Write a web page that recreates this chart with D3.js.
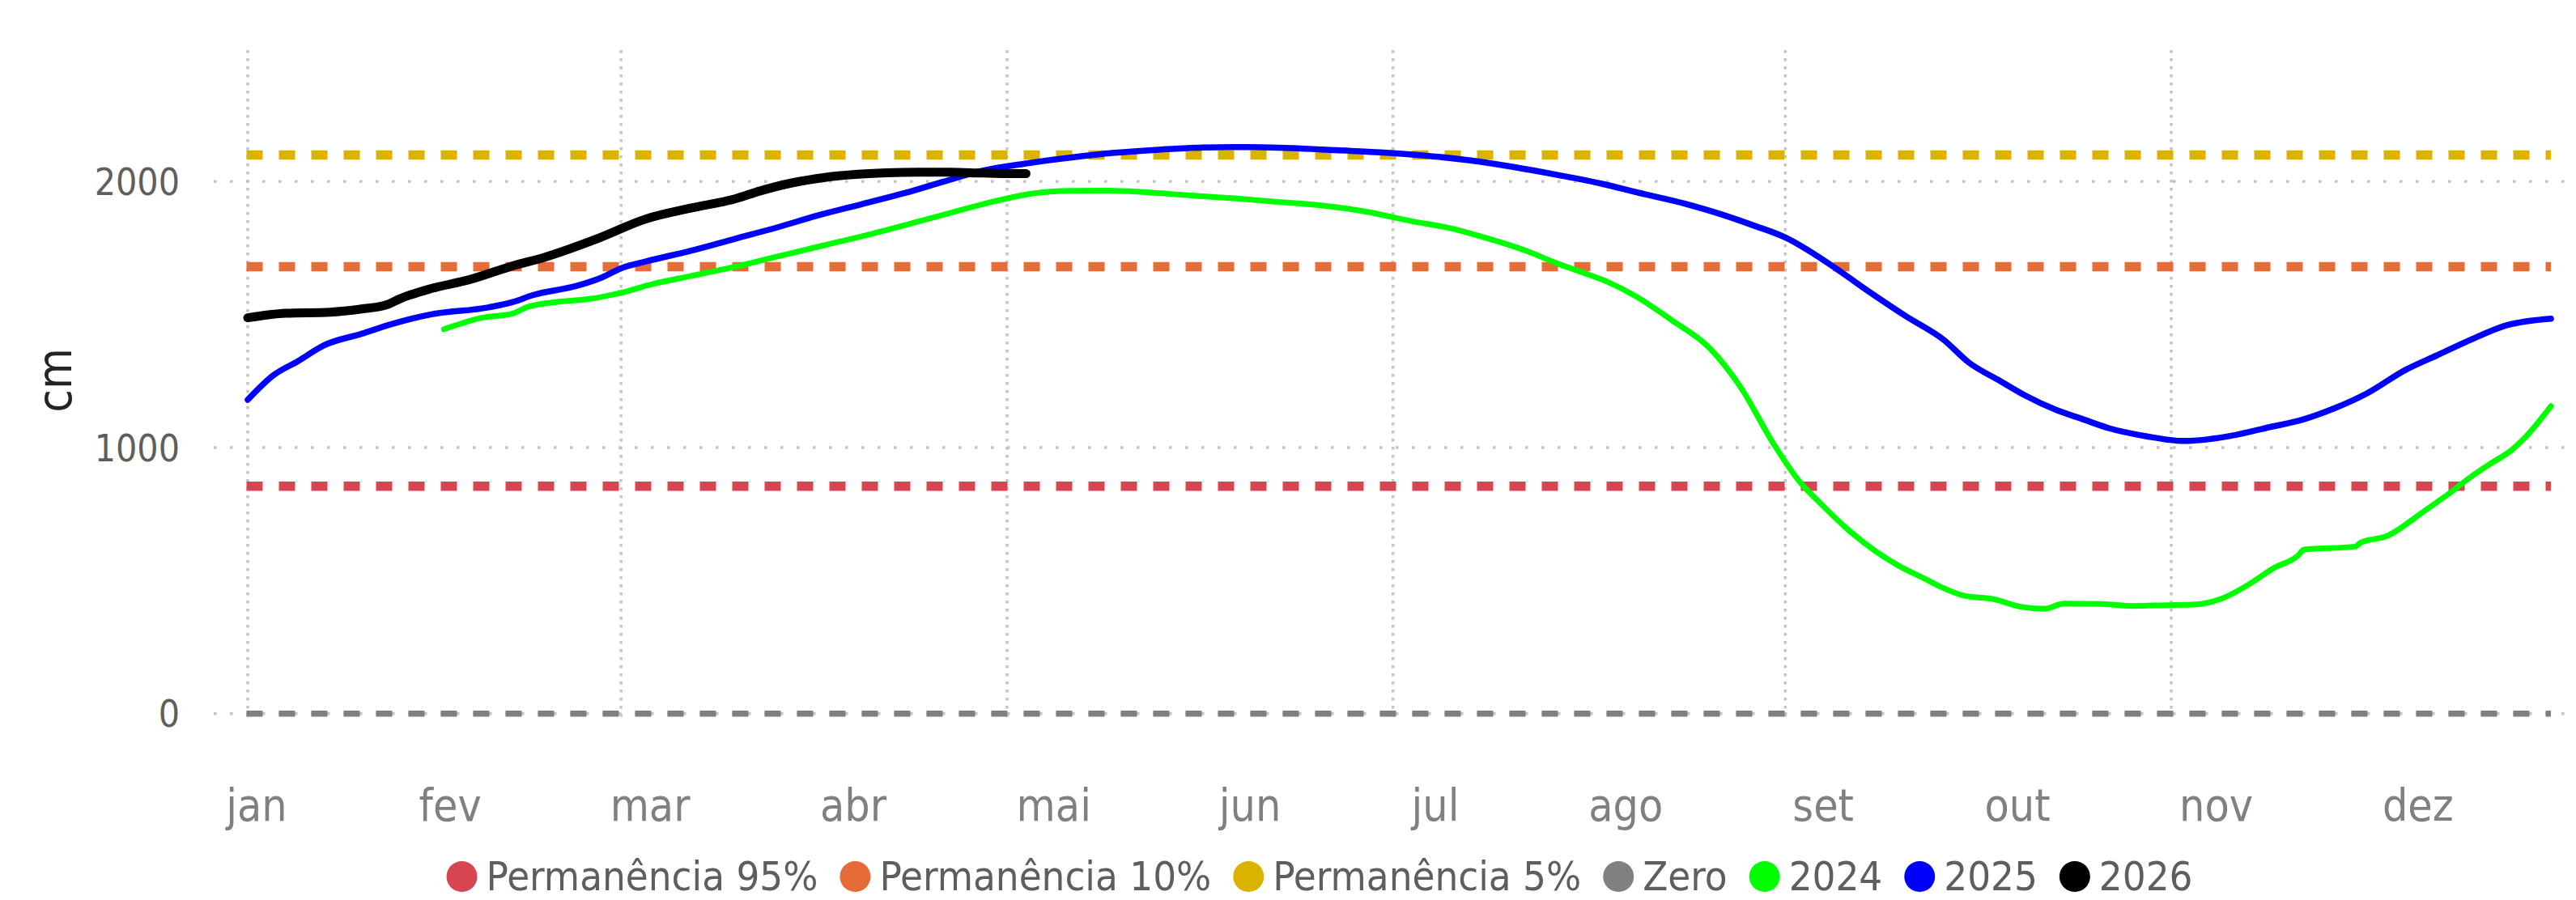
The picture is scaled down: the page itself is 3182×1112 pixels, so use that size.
<!DOCTYPE html>
<html>
<head>
<meta charset="utf-8">
<script src="https://cdn.jsdelivr.net/npm/d3@7"></script>
<style>
  html, body { margin: 0; padding: 0; background: #ffffff; }
  svg text { font-family: "DejaVu Sans Condensed", "DejaVu Sans", sans-serif; font-stretch: condensed; }
</style>
</head>
<body>
<svg id="chart" width="3182" height="1112"></svg>
<script>
// ---------- data ----------
const monthLabels = ["jan", "fev", "mar", "abr", "mai", "jun", "jul", "ago", "set", "out", "nov", "dez"];
// day-of-year where each month label sits
const monthLabelDays = [1.4, 32, 63.6, 95.7, 127.4, 158.4, 187.7, 217.8, 249.0, 279.7, 311.1, 343.0];
// vertical gridlines (day-of-year): 1 jan, 1 mar, 1 mai, 1 jul, 1 set, 1 nov
const gridDays = [0, 59, 120, 181, 243, 304];
const yTicks = [0, 1000, 2000];

const refNames = ["Permanência 95%", "Permanência 10%", "Permanência 5%", "Zero"];
const refValues = [855, 1680, 2100, 0];
const refColors = ["#D64550", "#E66C37", "#D9B300", "#808080"];

const seriesNames = ["2024", "2025", "2026"];
const seriesColors = ["#00FF00", "#0000FF", "#000000"];

// [day of year, level in cm]
const level2024 = [
  [31,1445],[37,1488],[42,1505],[44,1527],[49,1548],[54,1559],[59,1582],[64,1615],[70,1645],
  [77,1680],[84,1720],[91,1760],[98,1800],[106,1850],[111,1882],[117,1920],[124,1955],[130,1965],
  [136,1966],[142,1960],[149,1948],[156,1937],[162,1925],[169,1912],[176,1890],[184,1851],[190,1825],
  [195,1793],[202,1740],[207,1692],[211,1658],[215,1622],[220,1560],[225,1480],[231,1375],[236,1225],
  [241,1020],[245,880],[249,780],[253,690],[257,615],[261,555],[265,508],[268,472],[271,445],
  [276,430],[280,403],[284,394],[287,414],[293,412],[298,405],[303,408],[308,411],[312,433],
  [317,497],[320,545],[324,594],[325,617],[333,628],[334,644],[338,667],[344,762],[348,829],
  [351,884],[354,933],[358,995],[360,1040],[364,1156]
];
const level2025 = [
  [0,1180],[4,1271],[8,1326],[12,1384],[18,1428],[23,1466],[29,1501],[38,1527],[42,1548],[45,1573],
  [52,1608],[56,1640],[59,1674],[63,1700],[70,1740],[77,1785],[84,1830],[90,1872],[97,1915],
  [104,1958],[110,2000],[116,2040],[123,2068],[130,2090],[137,2108],[144,2120],[151,2128],[158,2130],
  [165,2126],[172,2118],[179,2110],[186,2098],[193,2080],[200,2055],[207,2025],[214,1992],[220,1957],
  [227,1918],[233,1876],[238,1835],[243,1790],[250,1690],[256,1590],[262,1495],[268,1406],[272,1320],
  [277,1250],[281,1195],[286,1140],[290,1107],[294,1074],[300,1043],[306,1025],[314,1047],[319,1074],
  [325,1107],[330,1150],[335,1205],[341,1292],[346,1347],[351,1402],[357,1460],[364,1485]
];
const level2026 = [
  [0,1488],[6,1505],[13,1509],[18,1521],[22,1537],[24,1559],[29,1598],[35,1631],[42,1684],[47,1716],
  [55,1783],[63,1860],[70,1900],[77,1935],[81,1965],[86,1995],[91,2015],[96,2027],[101,2033],
  [106,2035],[111,2035],[116,2032],[120,2030],[123,2030]
];
const seriesData = [level2024, level2025, level2026];

// ---------- layout ----------
const svg = d3.select("#chart");
const x = d3.scaleLinear().domain([0, 364]).range([306, 3151]);
const y = d3.scaleLinear().domain([0, 2500]).range([881.8, 60]);

// horizontal gridlines
svg.append("g").selectAll("line").data(yTicks).join("line")
  .attr("x1", 264).attr("x2", 3168)
  .attr("y1", d => y(d)).attr("y2", d => y(d))
  .attr("stroke", "#C4C4C4").attr("stroke-width", 3.5)
  .attr("stroke-dasharray", "3.5 16.5");

// vertical gridlines
svg.append("g").selectAll("line").data(gridDays).join("line")
  .attr("x1", d => x(d)).attr("x2", d => x(d))
  .attr("y1", 62).attr("y2", 888)
  .attr("stroke", "#C4C4C4").attr("stroke-width", 3.5)
  .attr("stroke-dasharray", "3.5 6.5");

// y labels
svg.append("g").selectAll("text").data(yTicks).join("text")
  .attr("x", 222).attr("y", d => y(d) + 16.5)
  .attr("text-anchor", "end")
  .attr("font-size", 46).attr("fill", "#605E5C")
  .text(d => d);

// y title
svg.append("text")
  .attr("transform", "translate(88,470) rotate(-90)")
  .attr("text-anchor", "middle")
  .attr("font-size", 58).attr("fill", "#252423")
  .text("cm");

// x labels
svg.append("g").selectAll("text").data(monthLabels).join("text")
  .attr("x", (d, i) => x(monthLabelDays[i])).attr("y", 1014)
  .attr("text-anchor", "middle")
  .attr("font-size", 55).attr("fill", "#808080")
  .text(d => d);

// reference dashed lines
svg.append("g").selectAll("line").data(refValues).join("line")
  .attr("x1", x(0) - 1.5).attr("x2", x(364))
  .attr("y1", d => y(d)).attr("y2", d => y(d))
  .attr("stroke", (d, i) => refColors[i])
  .attr("stroke-width", (d, i) => i === 3 ? 7.5 : 11.5)
  .attr("stroke-dasharray", "20 20");

// series lines
const line = d3.line().x(d => x(d[0])).y(d => y(d[1])).curve(d3.curveMonotoneX);
const widths = [7, 7.5, 11];
svg.append("g").selectAll("path").data(seriesData).join("path")
  .attr("d", d => line(d))
  .attr("fill", "none")
  .attr("stroke", (d, i) => seriesColors[i])
  .attr("stroke-width", (d, i) => widths[i])
  .attr("stroke-linecap", "round")
  .attr("stroke-linejoin", "round");

// legend
const legendNames = refNames.concat(seriesNames);
const legendColors = refColors.concat(seriesColors);
const lg = svg.append("g");
let cursor = 0;
legendNames.forEach((name, i) => {
  const g = lg.append("g");
  g.append("circle").attr("cx", 0).attr("cy", 1083).attr("r", 19).attr("fill", legendColors[i]);
  const t = g.append("text").attr("x", 30).attr("y", 1100)
    .attr("font-size", 50.5).attr("fill", "#605E5C").text(name);
  const w = t.node().getComputedTextLength();
  g.attr("transform", `translate(${cursor},0)`);
  cursor += 30 + w + 46;
});
const totalW = cursor - 46 + 19;
const startX = 1630 - totalW / 2 + 19;
lg.attr("transform", `translate(${startX},0)`);
</script>
</body>
</html>
